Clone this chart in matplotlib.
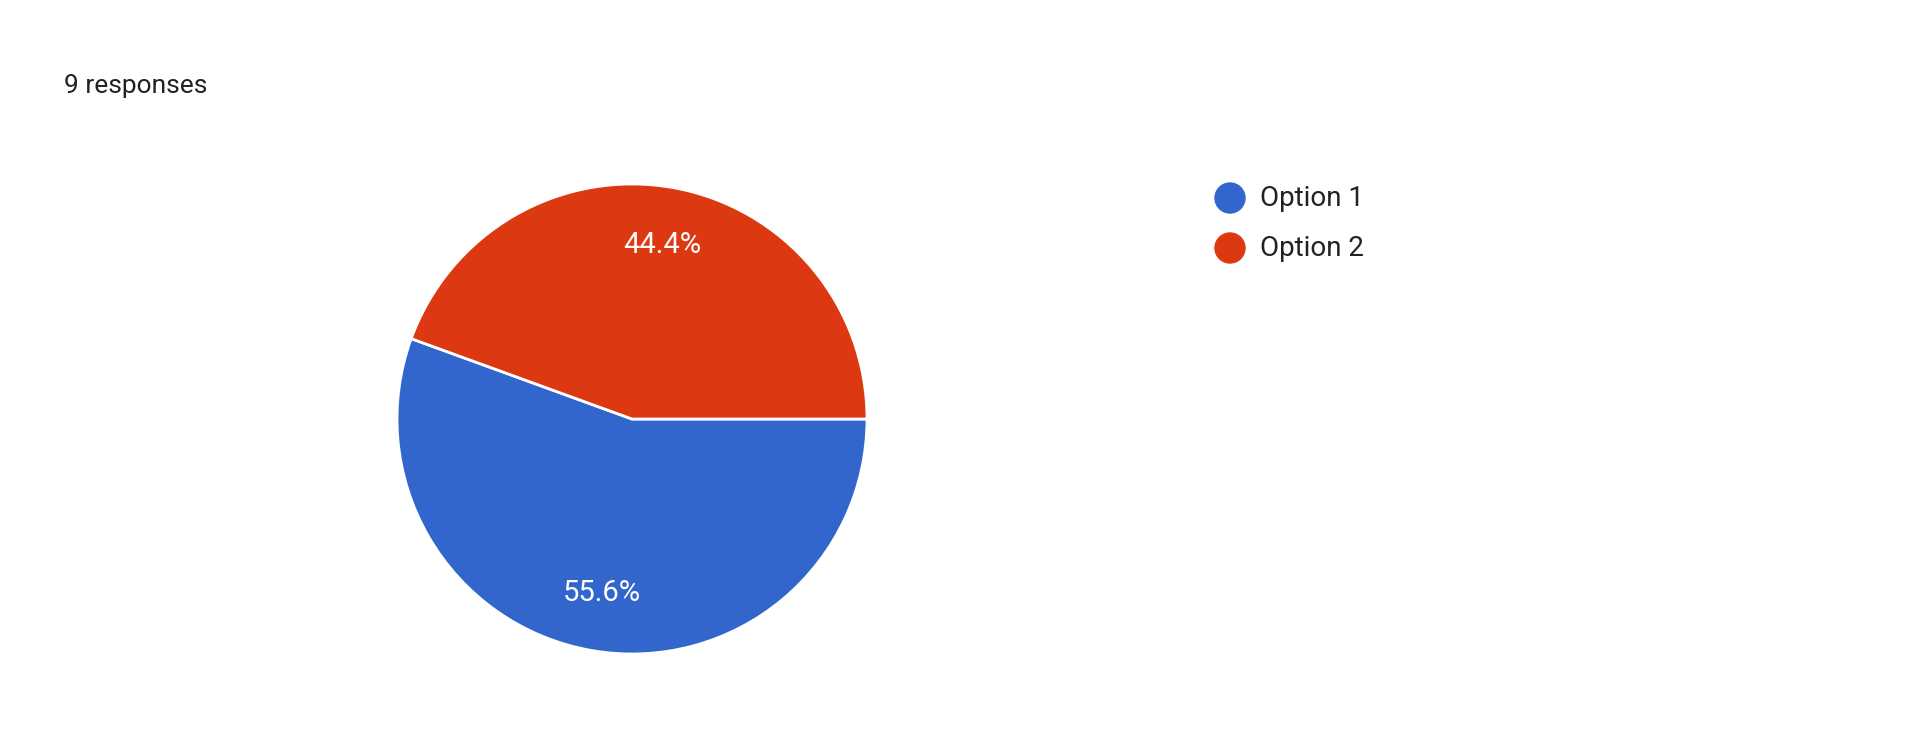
import matplotlib
matplotlib.use("Agg")
import matplotlib.pyplot as plt

labels = ["Option 1", "Option 2"]
counts = [5, 4]
colors = ["#3366cc", "#dc3912"]
title = "9 responses"

W, H = 1920, 745
fig = plt.figure(figsize=(W/100, H/100), dpi=100)
fig.patch.set_facecolor("white")
plt.rcParams['font.family'] = ['Roboto', 'DejaVu Sans']

cx, cy, r = 632, 419, 235
ax = fig.add_axes([(cx - r)/W, (H - cy - r)/H, 2*r/W, 2*r/H])
wedges, texts, autotexts = ax.pie(
    counts, colors=colors, startangle=0, counterclock=False,
    autopct="%1.1f%%", pctdistance=0.75,
    wedgeprops=dict(edgecolor="white", linewidth=2),
    textprops=dict(color="white", fontsize=21))
ax.set_aspect("equal")
ax.set_xlim(-1, 1); ax.set_ylim(-1, 1)

fig.text(64/W, 1 - 86/H, title, fontsize=19, color="#222222", va="center", ha="left")

for i, (lab, col) in enumerate(zip(labels, colors)):
    y = 1 - (198 + i*50)/H
    fig.patches.append(matplotlib.patches.Ellipse((1230/W, y), 30/W, 30/H,
                       transform=fig.transFigure, color=col, figure=fig))
    fig.text(1260/W, y, lab, fontsize=20, color="#222222", va="center", ha="left")

fig.savefig("out.png", dpi=100)
